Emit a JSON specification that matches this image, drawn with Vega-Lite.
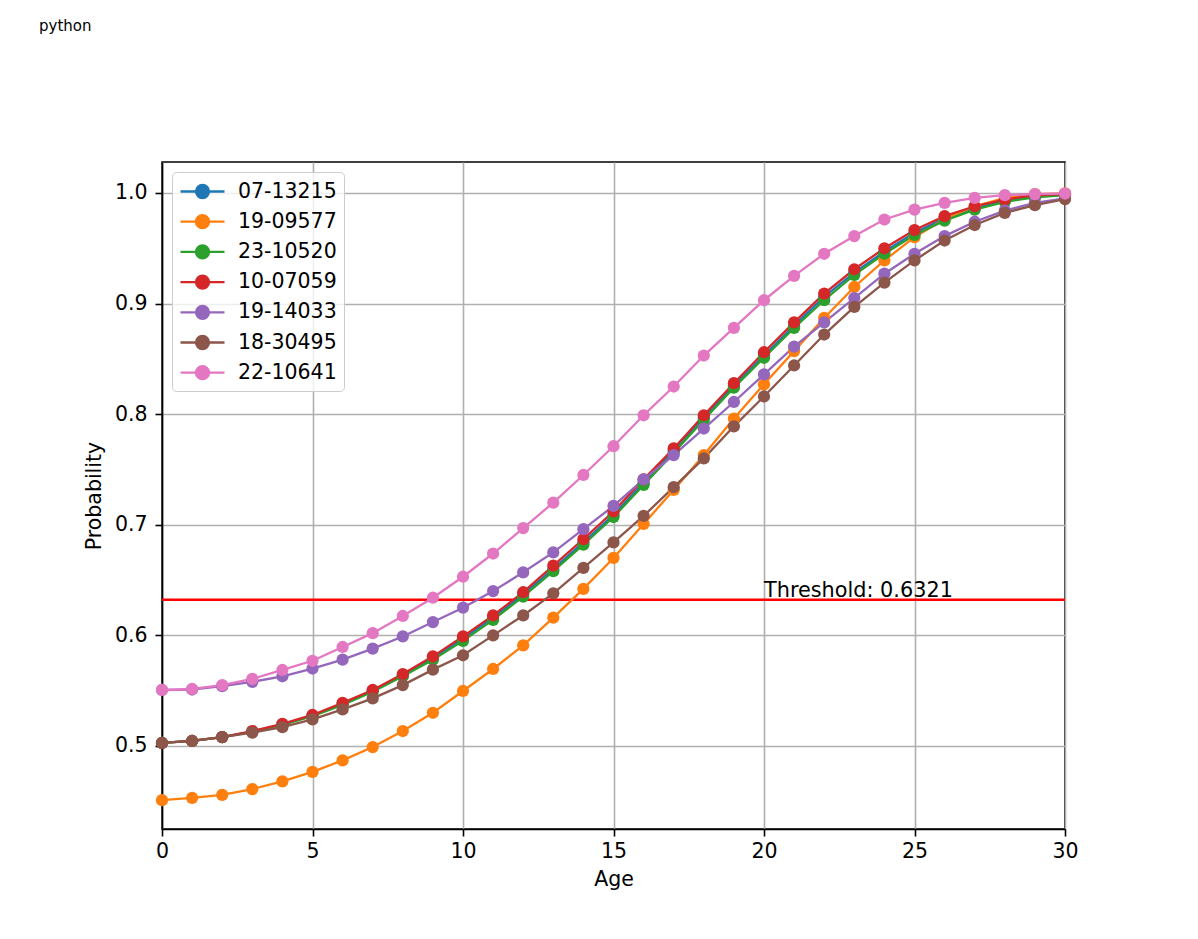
{
  "$schema": "https://vega.github.io/schema/vega-lite/v6.json",
  "width": 903,
  "height": 667,
  "autosize": "none",
  "padding": {"left": 162, "top": 162, "right": 133, "bottom": 110},
  "background": "white",
  "title": {"text": "python", "anchor": "start", "frame": "group", "dx": -123, "offset": 128, "fontSize": 15, "font": "Segoe UI, DejaVu Sans", "fontWeight": "normal", "color": "#000000"},
  "config": {
    "font": "DejaVu Sans",
    "view": {"stroke": "#000000", "strokeWidth": 1.6},
    "axis": {"labelFont": "DejaVu Sans", "titleFont": "DejaVu Sans", "labelFontSize": 20.5, "titleFontSize": 20.5, "titleFontWeight": "normal", "labelColor": "#000000", "titleColor": "#000000", "domainColor": "#000000", "domainWidth": 1.6, "tickColor": "#000000", "tickWidth": 1.6, "tickSize": 7, "gridColor": "#b0b0b0", "gridWidth": 1.6}
  },
  "datasets": {
    "curves": [
      {"s":"07-13215","k":0,"age":0,"p":0.5027},{"s":"07-13215","k":0,"age":1,"p":0.5045},{"s":"07-13215","k":0,"age":2,"p":0.508},{"s":"07-13215","k":0,"age":3,"p":0.513},{"s":"07-13215","k":0,"age":4,"p":0.5195},{"s":"07-13215","k":0,"age":5,"p":0.5275},{"s":"07-13215","k":0,"age":6,"p":0.538},{"s":"07-13215","k":0,"age":7,"p":0.55},{"s":"07-13215","k":0,"age":8,"p":0.564},{"s":"07-13215","k":0,"age":9,"p":0.5795},{"s":"07-13215","k":0,"age":10,"p":0.597},{"s":"07-13215","k":0,"age":11,"p":0.616},{"s":"07-13215","k":0,"age":12,"p":0.637},{"s":"07-13215","k":0,"age":13,"p":0.66},{"s":"07-13215","k":0,"age":14,"p":0.684},{"s":"07-13215","k":0,"age":15,"p":0.709},{"s":"07-13215","k":0,"age":16,"p":0.738},{"s":"07-13215","k":0,"age":17,"p":0.767},{"s":"07-13215","k":0,"age":18,"p":0.797},{"s":"07-13215","k":0,"age":19,"p":0.826},{"s":"07-13215","k":0,"age":20,"p":0.853},{"s":"07-13215","k":0,"age":21,"p":0.88},{"s":"07-13215","k":0,"age":22,"p":0.906},{"s":"07-13215","k":0,"age":23,"p":0.928},{"s":"07-13215","k":0,"age":24,"p":0.947},{"s":"07-13215","k":0,"age":25,"p":0.964},{"s":"07-13215","k":0,"age":26,"p":0.977},{"s":"07-13215","k":0,"age":27,"p":0.986},{"s":"07-13215","k":0,"age":28,"p":0.993},{"s":"07-13215","k":0,"age":29,"p":0.997},{"s":"07-13215","k":0,"age":30,"p":0.9985},
      {"s":"19-09577","k":1,"age":0,"p":0.451},{"s":"19-09577","k":1,"age":1,"p":0.453},{"s":"19-09577","k":1,"age":2,"p":0.4557},{"s":"19-09577","k":1,"age":3,"p":0.461},{"s":"19-09577","k":1,"age":4,"p":0.468},{"s":"19-09577","k":1,"age":5,"p":0.4765},{"s":"19-09577","k":1,"age":6,"p":0.487},{"s":"19-09577","k":1,"age":7,"p":0.499},{"s":"19-09577","k":1,"age":8,"p":0.5135},{"s":"19-09577","k":1,"age":9,"p":0.53},{"s":"19-09577","k":1,"age":10,"p":0.5497},{"s":"19-09577","k":1,"age":11,"p":0.5696},{"s":"19-09577","k":1,"age":12,"p":0.591},{"s":"19-09577","k":1,"age":13,"p":0.616},{"s":"19-09577","k":1,"age":14,"p":0.642},{"s":"19-09577","k":1,"age":15,"p":0.67},{"s":"19-09577","k":1,"age":16,"p":0.7007},{"s":"19-09577","k":1,"age":17,"p":0.7315},{"s":"19-09577","k":1,"age":18,"p":0.763},{"s":"19-09577","k":1,"age":19,"p":0.796},{"s":"19-09577","k":1,"age":20,"p":0.827},{"s":"19-09577","k":1,"age":21,"p":0.857},{"s":"19-09577","k":1,"age":22,"p":0.887},{"s":"19-09577","k":1,"age":23,"p":0.915},{"s":"19-09577","k":1,"age":24,"p":0.939},{"s":"19-09577","k":1,"age":25,"p":0.96},{"s":"19-09577","k":1,"age":26,"p":0.9765},{"s":"19-09577","k":1,"age":27,"p":0.988},{"s":"19-09577","k":1,"age":28,"p":0.9955},{"s":"19-09577","k":1,"age":29,"p":0.999},{"s":"19-09577","k":1,"age":30,"p":0.9997},
      {"s":"23-10520","k":2,"age":0,"p":0.5027},{"s":"23-10520","k":2,"age":1,"p":0.5045},{"s":"23-10520","k":2,"age":2,"p":0.508},{"s":"23-10520","k":2,"age":3,"p":0.513},{"s":"23-10520","k":2,"age":4,"p":0.519},{"s":"23-10520","k":2,"age":5,"p":0.527},{"s":"23-10520","k":2,"age":6,"p":0.537},{"s":"23-10520","k":2,"age":7,"p":0.549},{"s":"23-10520","k":2,"age":8,"p":0.563},{"s":"23-10520","k":2,"age":9,"p":0.578},{"s":"23-10520","k":2,"age":10,"p":0.595},{"s":"23-10520","k":2,"age":11,"p":0.614},{"s":"23-10520","k":2,"age":12,"p":0.635},{"s":"23-10520","k":2,"age":13,"p":0.658},{"s":"23-10520","k":2,"age":14,"p":0.682},{"s":"23-10520","k":2,"age":15,"p":0.707},{"s":"23-10520","k":2,"age":16,"p":0.736},{"s":"23-10520","k":2,"age":17,"p":0.765},{"s":"23-10520","k":2,"age":18,"p":0.795},{"s":"23-10520","k":2,"age":19,"p":0.824},{"s":"23-10520","k":2,"age":20,"p":0.851},{"s":"23-10520","k":2,"age":21,"p":0.878},{"s":"23-10520","k":2,"age":22,"p":0.903},{"s":"23-10520","k":2,"age":23,"p":0.926},{"s":"23-10520","k":2,"age":24,"p":0.945},{"s":"23-10520","k":2,"age":25,"p":0.962},{"s":"23-10520","k":2,"age":26,"p":0.975},{"s":"23-10520","k":2,"age":27,"p":0.985},{"s":"23-10520","k":2,"age":28,"p":0.992},{"s":"23-10520","k":2,"age":29,"p":0.996},{"s":"23-10520","k":2,"age":30,"p":0.998},
      {"s":"10-07059","k":3,"age":0,"p":0.5027},{"s":"10-07059","k":3,"age":1,"p":0.5045},{"s":"10-07059","k":3,"age":2,"p":0.508},{"s":"10-07059","k":3,"age":3,"p":0.5135},{"s":"10-07059","k":3,"age":4,"p":0.52},{"s":"10-07059","k":3,"age":5,"p":0.528},{"s":"10-07059","k":3,"age":6,"p":0.539},{"s":"10-07059","k":3,"age":7,"p":0.5506},{"s":"10-07059","k":3,"age":8,"p":0.565},{"s":"10-07059","k":3,"age":9,"p":0.581},{"s":"10-07059","k":3,"age":10,"p":0.599},{"s":"10-07059","k":3,"age":11,"p":0.618},{"s":"10-07059","k":3,"age":12,"p":0.639},{"s":"10-07059","k":3,"age":13,"p":0.663},{"s":"10-07059","k":3,"age":14,"p":0.687},{"s":"10-07059","k":3,"age":15,"p":0.712},{"s":"10-07059","k":3,"age":16,"p":0.741},{"s":"10-07059","k":3,"age":17,"p":0.769},{"s":"10-07059","k":3,"age":18,"p":0.799},{"s":"10-07059","k":3,"age":19,"p":0.828},{"s":"10-07059","k":3,"age":20,"p":0.856},{"s":"10-07059","k":3,"age":21,"p":0.883},{"s":"10-07059","k":3,"age":22,"p":0.909},{"s":"10-07059","k":3,"age":23,"p":0.931},{"s":"10-07059","k":3,"age":24,"p":0.95},{"s":"10-07059","k":3,"age":25,"p":0.9665},{"s":"10-07059","k":3,"age":26,"p":0.979},{"s":"10-07059","k":3,"age":27,"p":0.988},{"s":"10-07059","k":3,"age":28,"p":0.994},{"s":"10-07059","k":3,"age":29,"p":0.998},{"s":"10-07059","k":3,"age":30,"p":0.999},
      {"s":"19-14033","k":4,"age":0,"p":0.5506},{"s":"19-14033","k":4,"age":1,"p":0.551},{"s":"19-14033","k":4,"age":2,"p":0.554},{"s":"19-14033","k":4,"age":3,"p":0.558},{"s":"19-14033","k":4,"age":4,"p":0.563},{"s":"19-14033","k":4,"age":5,"p":0.57},{"s":"19-14033","k":4,"age":6,"p":0.578},{"s":"19-14033","k":4,"age":7,"p":0.588},{"s":"19-14033","k":4,"age":8,"p":0.599},{"s":"19-14033","k":4,"age":9,"p":0.612},{"s":"19-14033","k":4,"age":10,"p":0.625},{"s":"19-14033","k":4,"age":11,"p":0.64},{"s":"19-14033","k":4,"age":12,"p":0.657},{"s":"19-14033","k":4,"age":13,"p":0.675},{"s":"19-14033","k":4,"age":14,"p":0.696},{"s":"19-14033","k":4,"age":15,"p":0.717},{"s":"19-14033","k":4,"age":16,"p":0.741},{"s":"19-14033","k":4,"age":17,"p":0.763},{"s":"19-14033","k":4,"age":18,"p":0.787},{"s":"19-14033","k":4,"age":19,"p":0.811},{"s":"19-14033","k":4,"age":20,"p":0.836},{"s":"19-14033","k":4,"age":21,"p":0.861},{"s":"19-14033","k":4,"age":22,"p":0.883},{"s":"19-14033","k":4,"age":23,"p":0.905},{"s":"19-14033","k":4,"age":24,"p":0.927},{"s":"19-14033","k":4,"age":25,"p":0.945},{"s":"19-14033","k":4,"age":26,"p":0.961},{"s":"19-14033","k":4,"age":27,"p":0.974},{"s":"19-14033","k":4,"age":28,"p":0.984},{"s":"19-14033","k":4,"age":29,"p":0.991},{"s":"19-14033","k":4,"age":30,"p":0.995},
      {"s":"18-30495","k":5,"age":0,"p":0.5027},{"s":"18-30495","k":5,"age":1,"p":0.5045},{"s":"18-30495","k":5,"age":2,"p":0.508},{"s":"18-30495","k":5,"age":3,"p":0.512},{"s":"18-30495","k":5,"age":4,"p":0.517},{"s":"18-30495","k":5,"age":5,"p":0.524},{"s":"18-30495","k":5,"age":6,"p":0.533},{"s":"18-30495","k":5,"age":7,"p":0.543},{"s":"18-30495","k":5,"age":8,"p":0.555},{"s":"18-30495","k":5,"age":9,"p":0.569},{"s":"18-30495","k":5,"age":10,"p":0.582},{"s":"18-30495","k":5,"age":11,"p":0.6},{"s":"18-30495","k":5,"age":12,"p":0.618},{"s":"18-30495","k":5,"age":13,"p":0.638},{"s":"18-30495","k":5,"age":14,"p":0.661},{"s":"18-30495","k":5,"age":15,"p":0.684},{"s":"18-30495","k":5,"age":16,"p":0.708},{"s":"18-30495","k":5,"age":17,"p":0.734},{"s":"18-30495","k":5,"age":18,"p":0.76},{"s":"18-30495","k":5,"age":19,"p":0.789},{"s":"18-30495","k":5,"age":20,"p":0.816},{"s":"18-30495","k":5,"age":21,"p":0.844},{"s":"18-30495","k":5,"age":22,"p":0.872},{"s":"18-30495","k":5,"age":23,"p":0.897},{"s":"18-30495","k":5,"age":24,"p":0.919},{"s":"18-30495","k":5,"age":25,"p":0.939},{"s":"18-30495","k":5,"age":26,"p":0.957},{"s":"18-30495","k":5,"age":27,"p":0.971},{"s":"18-30495","k":5,"age":28,"p":0.982},{"s":"18-30495","k":5,"age":29,"p":0.989},{"s":"18-30495","k":5,"age":30,"p":0.9945},
      {"s":"22-10641","k":6,"age":0,"p":0.5506},{"s":"22-10641","k":6,"age":1,"p":0.5515},{"s":"22-10641","k":6,"age":2,"p":0.555},{"s":"22-10641","k":6,"age":3,"p":0.5606},{"s":"22-10641","k":6,"age":4,"p":0.5687},{"s":"22-10641","k":6,"age":5,"p":0.577},{"s":"22-10641","k":6,"age":6,"p":0.5895},{"s":"22-10641","k":6,"age":7,"p":0.602},{"s":"22-10641","k":6,"age":8,"p":0.6175},{"s":"22-10641","k":6,"age":9,"p":0.634},{"s":"22-10641","k":6,"age":10,"p":0.653},{"s":"22-10641","k":6,"age":11,"p":0.674},{"s":"22-10641","k":6,"age":12,"p":0.697},{"s":"22-10641","k":6,"age":13,"p":0.72},{"s":"22-10641","k":6,"age":14,"p":0.745},{"s":"22-10641","k":6,"age":15,"p":0.771},{"s":"22-10641","k":6,"age":16,"p":0.799},{"s":"22-10641","k":6,"age":17,"p":0.825},{"s":"22-10641","k":6,"age":18,"p":0.853},{"s":"22-10641","k":6,"age":19,"p":0.878},{"s":"22-10641","k":6,"age":20,"p":0.903},{"s":"22-10641","k":6,"age":21,"p":0.925},{"s":"22-10641","k":6,"age":22,"p":0.945},{"s":"22-10641","k":6,"age":23,"p":0.961},{"s":"22-10641","k":6,"age":24,"p":0.976},{"s":"22-10641","k":6,"age":25,"p":0.985},{"s":"22-10641","k":6,"age":26,"p":0.991},{"s":"22-10641","k":6,"age":27,"p":0.9955},{"s":"22-10641","k":6,"age":28,"p":0.998},{"s":"22-10641","k":6,"age":29,"p":0.999},{"s":"22-10641","k":6,"age":30,"p":0.9995}
    ],
    "threshold": [{"age": 20, "p": 0.6321, "label": "Threshold: 0.6321"}]
  },
  "layer": [
    {
      "data": {"name": "threshold"},
      "mark": {"type": "rule", "color": "#ff0000", "strokeWidth": 2.5},
      "encoding": {"y": {"field": "p", "type": "quantitative", "scale": {"domain": [0.4249, 1.028]}}}
    },
    {
      "data": {"name": "curves"},
      "mark": {"type": "line", "strokeWidth": 2.3},
      "encoding": {
        "x": {"field": "age", "type": "quantitative", "scale": {"domain": [0, 30], "nice": false, "zero": false}, "axis": {"title": "Age", "values": [0, 5, 10, 15, 20, 25, 30], "labelPadding": 5, "titlePadding": 8, "labelFlush": false}},
        "y": {"field": "p", "type": "quantitative", "scale": {"domain": [0.4249, 1.028], "nice": false, "zero": false}, "axis": {"title": "Probability", "values": [0.5, 0.6, 0.7, 0.8, 0.9, 1.0], "format": ".1f", "labelPadding": 8, "titlePadding": 10}},
        "color": {"field": "s", "type": "nominal", "sort": null,
          "scale": {"domain": ["07-13215", "19-09577", "23-10520", "10-07059", "19-14033", "18-30495", "22-10641"], "range": ["#1f77b4", "#ff7f0e", "#2ca02c", "#d62728", "#9467bd", "#8c564b", "#e377c2"]},
          "legend": {"title": null, "orient": "top-left", "offset": 10, "padding": 7, "strokeColor": "#cccccc", "fillColor": "rgba(255,255,255,0.8)", "cornerRadius": 4,
            "labelFont": "DejaVu Sans", "labelFontSize": 20.5, "labelColor": "#000000", "labelOffset": 34, "rowPadding": 6.2,
            "symbolType": "M-1,0H3 M1.59,0 A0.59,0.59 0 1,1 0.41,0 A0.59,0.59 0 1,1 1.59,0 Z", "symbolSize": 484, "symbolStrokeWidth": 2.3, "symbolOpacity": 1}},
        "order": {"field": "age", "type": "quantitative"}
      }
    },
    {
      "data": {"name": "curves"},
      "mark": {"type": "point", "filled": true, "opacity": 1, "size": 150},
      "encoding": {
        "x": {"field": "age", "type": "quantitative"},
        "y": {"field": "p", "type": "quantitative"},
        "color": {"field": "s", "type": "nominal", "sort": null},
        "order": {"field": "k", "type": "quantitative"}
      }
    },
    {
      "data": {"name": "threshold"},
      "mark": {"type": "text", "align": "left", "baseline": "alphabetic", "dy": -3, "fontSize": 20.8, "font": "DejaVu Sans", "color": "#000000"},
      "encoding": {
        "x": {"field": "age", "type": "quantitative"},
        "y": {"field": "p", "type": "quantitative"},
        "text": {"field": "label"}
      }
    }
  ]
}
